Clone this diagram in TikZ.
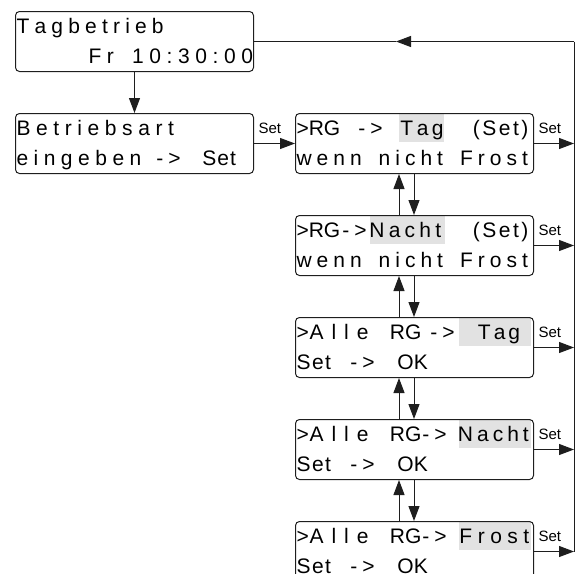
\documentclass[tikz,border=0pt]{standalone}
\usepackage{fontspec}
\setmainfont{Liberation Sans}
\usetikzlibrary{arrows.meta, positioning, backgrounds}
\definecolor{cline}{HTML}{1E1E1E}
\definecolor{chl}{HTML}{E2E2E2}
% one display segment: \seg{x offset}[tracking]{text}
\ExplSyntaxOn
\cs_new_protected:Npn \lcd_trk:nn #1#2 { \str_map_inline:nn {#2} { ##1 \skip_horizontal:n { #1 pt } } }
\NewDocumentCommand \seg { m O{5} m } { \rlap{ \skip_horizontal:n { #1 pt } \lcd_trk:nn {#2} {#3} } }
\ExplSyntaxOff
\newcommand{\ls}{\rule[-8pt]{0pt}{30pt}}
\tikzset{
  every picture/.style={line width=1pt},
  lcd/.style={draw=cline, rounded corners=4pt, inner xsep=1pt, inner ysep=0pt, text width=236pt, align=left, minimum height=60pt, font=\fontsize{21}{30}\selectfont},
  arrow/.style={-{Triangle[length=15pt, width=11pt]}, draw=cline},
  setlabel/.style={font=\fontsize{15}{17}\selectfont, inner sep=0pt, anchor=base west, xshift=4pt, yshift=10pt},
  hl/.style={fill=chl},
}

\begin{document}
\begin{tikzpicture}[x=1pt, y=-1pt]
  \clip (0,0) rectangle (581,573);
  % displays
  \node[lcd, anchor=north west] (b1) at (15,11) {\ls\seg{0}[5.2]{Tagbetrieb}\\\ls\seg{72}[5.6]{Fr 10:30:00}};
  \node[lcd, below=41pt of b1] (b2) {\ls\seg{0}[5.6]{Betriebsart}\\\ls\seg{0}[5.5]{eingeben}\seg{140}{->}\seg{186}[1]{Set}};
  \node[lcd, right=41pt of b2] (b3) {\ls\seg{0}[0]{>RG}\seg{62}{->}\seg{104}[3.5]{Tag}\seg{176.5}[2.5]{(Set)}\\\ls\seg{0}[5]{wenn nicht Frost}};
  \node[lcd, below=41pt of b3] (b4) {\ls\seg{0}[0]{>RG}\seg{46}{->}\seg{73}[4.2]{Nacht}\seg{176.5}[2.5]{(Set)}\\\ls\seg{0}[5]{wenn nicht Frost}};
  \node[lcd, below=41pt of b4] (b5) {\ls\seg{0}[0]{>}\seg{13}[8]{Alle}\seg{93.5}[0]{RG}\seg{134}{->}\seg{181.5}[3]{Tag}\\\ls\seg{0}[1.5]{Set}\seg{54}{->}\seg{101}[0]{OK}};
  \node[lcd, below=41pt of b5] (b6) {\ls\seg{0}[0]{>}\seg{13}[8]{Alle}\seg{93.5}[0]{RG}\seg{126}{->}\seg{161.5}[4]{Nacht}\\\ls\seg{0}[1.5]{Set}\seg{54}{->}\seg{101}[0]{OK}};
  \node[lcd, below=41pt of b6] (b7) {\ls\seg{0}[0]{>}\seg{13}[8]{Alle}\seg{93.5}[0]{RG}\seg{126}{->}\seg{163}[5.5]{Frost}\\\ls\seg{0}[1.5]{Set}\seg{54}{->}\seg{101}[0]{OK}};
  % highlighted values
  \begin{scope}[on background layer]
    \fill[hl] ([xshift=104pt]b3.north west) rectangle ++(45,29);
    \fill[hl] ([xshift=75pt]b4.north west) rectangle ++(75,29);
    \foreach \b in {b5,b6,b7} \fill[hl] ([xshift=164pt]\b.north west) rectangle ++(72,29);
  \end{scope}
  % connectors
  \coordinate (rail) at ([xshift=320pt]b1.east);
  \coordinate (back) at ([xshift=142pt]b1.east);
  \draw[arrow] (b1) -- (b2);
  \draw[arrow] (b2.east) -- (b3.west) node[setlabel, pos=0] (s2) {Set};
  \foreach \a/\b in {b3/b4, b4/b5, b5/b6, b6/b7} {
    \draw[arrow] ([xshift=104pt]\b.north west) -- ([xshift=104pt]\a.south west);
    \draw[arrow] ([xshift=119pt]\a.south west) -- ([xshift=119pt]\b.north west);
  }
  \foreach \b in {b3,b4,b5,b6,b7}
    \draw[arrow] (\b.east) -- (\b.east -| rail) node[setlabel, pos=0] (s\b) {Set};
  \draw[cline] (rail) -- (b7.east -| rail);
  \draw[arrow] (rail) -- (back);
  \draw[cline] (back) -- (b1.east);
\end{tikzpicture}
\end{document}
